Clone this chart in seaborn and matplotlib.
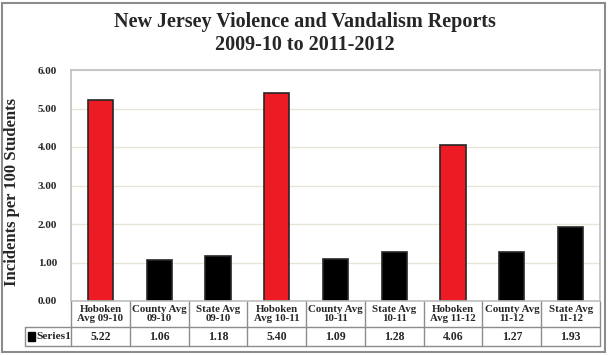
import matplotlib
matplotlib.use("Agg")
import matplotlib.pyplot as plt
import matplotlib.transforms as mtransforms
from matplotlib.patches import Rectangle
import seaborn as sns
import pandas as pd

categories = ["Hoboken\nAvg 09-10", "County Avg\n09-10", "State Avg\n09-10",
              "Hoboken\nAvg 10-11", "County Avg\n10-11", "State Avg\n10-11",
              "Hoboken\nAvg 11-12", "County Avg\n11-12", "State Avg\n11-12"]
values = [5.22, 1.06, 1.18, 5.40, 1.09, 1.28, 4.06, 1.27, 1.93]
value_labels = ["5.22", "1.06", "1.18", "5.40", "1.09", "1.28", "4.06", "1.27", "1.93"]
groups = ["Hoboken", "Other", "Other", "Hoboken", "Other", "Other", "Hoboken", "Other", "Other"]
series_name = "Series1"
title = "New Jersey Violence and Vandalism Reports\n2009-10 to 2011-2012"
ylabel = "Incidents per 100 Students"
yticks = [0, 1, 2, 3, 4, 5, 6]

sns.set_theme(style="white")
plt.rcParams["font.family"] = ["Liberation Serif", "DejaVu Serif"]

W, H = 609, 355
fig = plt.figure(figsize=(W / 100, H / 100), dpi=100)
ax = fig.add_axes([71 / W, 1 - 301 / H, (600 - 71) / W, (301 - 70) / H])

df = pd.DataFrame({"cat": categories, "val": values, "grp": groups})
sns.barplot(data=df, x="cat", y="val", hue="grp", order=categories,
            palette={"Hoboken": "#ed1c24", "Other": "#000000"},
            width=0.43, dodge=False, legend=False, ax=ax, saturation=1,
            edgecolor="#262626", linewidth=1.2)

ax.set_ylim(0, 6)
ax.set_xlim(-0.5, len(categories) - 0.5)
ax.set_yticks(yticks)
ax.set_yticklabels([f"{t:.2f}" for t in yticks], fontsize=8, fontweight="bold")
ax.yaxis.grid(True, color="#e6e6d8", linewidth=1)
ax.set_axisbelow(True)
ax.set_xticks([])
ax.set_xlabel("")
ax.set_ylabel(ylabel, fontsize=12, fontweight="bold")
ax.yaxis.set_label_coords((20 - 71) / (600 - 71), 0.47)
ax.tick_params(axis="y", length=0, pad=10)
for s in ax.spines.values():
    s.set_color("#bfbfbf")
    s.set_linewidth(1.2)

fig.text(0.5, 1 - 22 / H, title.split("\n")[0], ha="center", va="center",
         fontsize=14.5, fontweight="bold")
fig.text(0.5, 1 - 45 / H, title.split("\n")[1], ha="center", va="center",
         fontsize=14.5, fontweight="bold")

# data table below the axes
tr = mtransforms.blended_transform_factory(ax.transData, ax.transAxes)
ph = (301 - 70)
def ay(py):
    return (301 - py) / ph

y0, y1, y2 = ay(301), ay(327), ay(346)
lc = "#8c8c8c"
for i in range(len(categories) + 1):
    x = i - 0.5
    ax.plot([x, x], [y0, y2], transform=tr, color=lc, lw=1, clip_on=False)
ax.plot([-0.5, len(categories) - 0.5], [y1, y1], transform=tr, color=lc, lw=1, clip_on=False)
ax.plot([-0.5, len(categories) - 0.5], [y2, y2], transform=tr, color=lc, lw=1, clip_on=False)
trf = mtransforms.blended_transform_factory(fig.transFigure, ax.transAxes)
ax.plot([25 / W, 71 / W], [y1, y1], transform=trf, color=lc, lw=1, clip_on=False)
ax.plot([25 / W, 71 / W], [y2, y2], transform=trf, color=lc, lw=1, clip_on=False)
ax.plot([25 / W, 25 / W], [y1, y2], transform=trf, color=lc, lw=1, clip_on=False)
ax.add_patch(Rectangle((28 / W, ay(341)), 7 / W, 9 / ph, transform=trf,
                       color="black", clip_on=False))
ax.text(36 / W, (y1 + y2) / 2, series_name, transform=trf, fontsize=8.2,
        fontweight="bold", va="center", ha="left")

for i, (c, v) in enumerate(zip(categories, value_labels)):
    ax.text(i, (y0 + y1) / 2, c, transform=tr, ha="center", va="center",
            fontsize=7.8, fontweight="bold", linespacing=1.1)
    ax.text(i, (y1 + y2) / 2, v, transform=tr, ha="center", va="center",
            fontsize=8.5, fontweight="bold")

fig.add_artist(Rectangle((2 / W, 3 / H), (605 - 2) / W, (352 - 3) / H,
                         transform=fig.transFigure, fill=False,
                         edgecolor="#8c8c8c", linewidth=1.5))

fig.savefig("out.png", dpi=100)
